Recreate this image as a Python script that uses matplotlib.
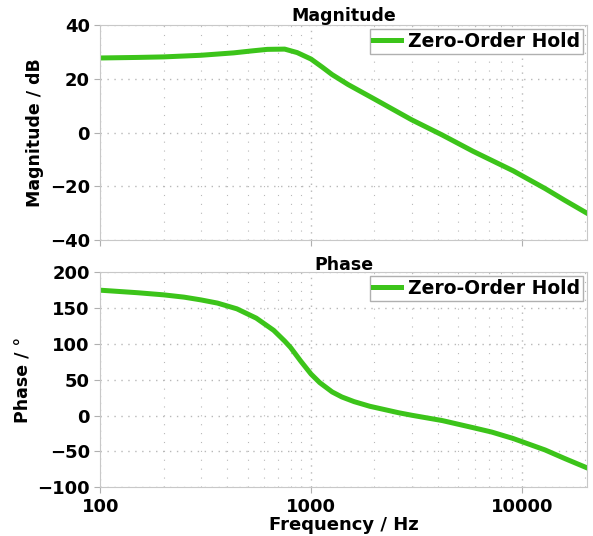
import numpy as np
import matplotlib.pyplot as plt
from matplotlib.ticker import LogLocator, MultipleLocator, FixedLocator

# values
mag_freq = [100, 150, 200, 300, 430, 520, 620, 750, 860, 1000, 1130, 1260,
            1500, 2000, 3000, 4200, 5860, 9100, 12900, 16000, 20400]
mag_db = [27.8, 28.0, 28.2, 28.8, 29.7, 30.4, 31.0, 31.1, 29.8, 27.4, 24.4,
          21.6, 17.9, 12.5, 4.8, -0.9, -6.9, -14.2, -20.8, -25.2, -30.0]

ph_freq = [100, 150, 200, 250, 300, 360, 445, 550, 665, 750, 800, 894, 1000,
           1100, 1260, 1400, 1600, 1900, 2600, 3000, 4200, 5900, 7200, 9100,
           12900, 16000, 20400]
phase_deg = [175, 171.5, 168.5, 165.3, 161.5, 157, 149, 136, 119, 104, 95,
             76, 58, 46, 33, 26, 19.5, 13, 4, 0.5, -7, -17, -23, -32, -48,
             -60, -73]

GREEN = "#3cc41a"
GRID = "#b8b8b8"

plt.rcParams["font.family"] = "DejaVu Sans"
plt.rcParams["font.weight"] = "bold"

fig = plt.figure(figsize=(5.93, 5.36), dpi=100)
ax1 = fig.add_axes([0.169, 0.552, 0.821, 0.401])
ax2 = fig.add_axes([0.169, 0.091, 0.821, 0.401])


def style(ax, title, ylabel, ylim, ystep):
    ax.set_xscale("log")
    ax.set_xlim(100, 20400)
    ax.set_ylim(*ylim)
    ax.yaxis.set_major_locator(MultipleLocator(ystep))
    ax.xaxis.set_major_locator(FixedLocator([100, 1000, 10000]))
    ax.xaxis.set_minor_locator(LogLocator(base=10, subs=np.arange(2, 10)))
    ax.grid(which="major", color=GRID, linestyle=(0, (1, 4)), linewidth=1)
    ax.grid(which="minor", axis="x", color=GRID, linestyle=(0, (1, 7)),
            linewidth=0.8)
    for s in ax.spines.values():
        s.set_color("#c8c8c8")
    ax.tick_params(which="both", colors="#b0b0b0", labelcolor="black",
                   labelsize=13, length=4, direction="out")
    ax.tick_params(which="minor", length=0)
    ax.tick_params(axis="x", which="minor", labelbottom=False)
    ax.set_title(title, fontsize=12.5, fontweight="bold", pad=2)
    ax.set_ylabel(ylabel, fontsize=12.5, fontweight="bold")
    for lab in ax.get_xticklabels() + ax.get_yticklabels():
        lab.set_fontweight("bold")


ax1.plot(mag_freq, mag_db, color=GREEN, linewidth=3.6,
         solid_joinstyle="round", label="Zero-Order Hold")
style(ax1, "Magnitude", "Magnitude / dB", (-40, 40), 20)
ax1.tick_params(axis="x", labelbottom=False)

ax2.plot(ph_freq, phase_deg, color=GREEN, linewidth=3.6,
         solid_joinstyle="round", label="Zero-Order Hold")
style(ax2, "Phase", "Phase / °", (-100, 200), 50)
ax2.set_xticklabels(["100", "1000", "10000"])
ax2.set_xlabel("Frequency / Hz", fontsize=13, fontweight="bold", labelpad=0)

for ax in (ax1, ax2):
    leg = ax.legend(loc="upper right", fontsize=13.5, fancybox=False,
                    borderaxespad=0.2, handlelength=1.5, borderpad=0.15,
                    handletextpad=0.4, framealpha=1)
    leg.get_frame().set_edgecolor("#b0b0b0")

fig.savefig("out.png", dpi=100)
